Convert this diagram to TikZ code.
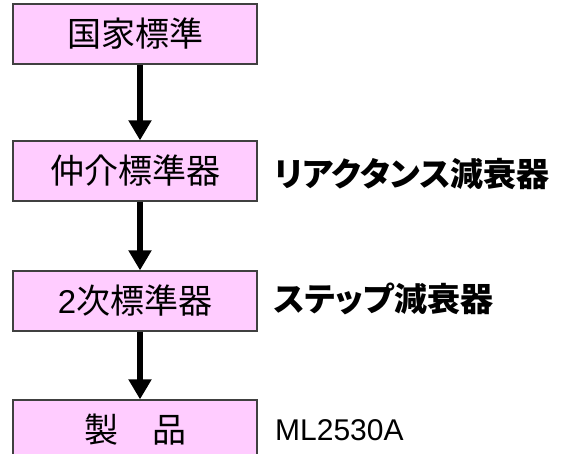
\documentclass[tikz,border=0pt]{standalone}
\usepackage{fontspec}
\setmainfont{Liberation Sans}
\newfontfamily\cjk{Noto Sans CJK JP}
\newfontfamily\cjkp[RawFeature=+palt]{Noto Sans CJK JP}
\usetikzlibrary{arrows.meta}
\begin{document}
\begin{tikzpicture}[x=1pt,y=-1pt,
  box/.style={draw=black!75,line width=1.3pt,fill=pinkfill,minimum width=244pt,minimum height=60pt,inner sep=0pt,font=\fontsize{34}{36}\selectfont},
  lab/.style={anchor=west,inner sep=0pt,font=\fontsize{33}{35}\selectfont},
  flow/.style={line width=6pt,-{Triangle[width=22pt,length=20pt]}}]
\definecolor{pinkfill}{HTML}{FFCCFF}
\useasboundingbox (0,0) rectangle (572,453);
\clip (0,0) rectangle (572,453);
\node[box] (b1) at (135,34) {\cjk 国家標準};
\node[box] (b2) at (135,171) {\cjk 仲介標準器};
\node[box] (b3) at (135,301) {\fontsize{33}{36}\selectfont 2{\cjk\fontsize{34}{36}\selectfont 次標準器}};
\node[box] (b4) at (135,430) {\cjk 製　品};
\draw[flow] ([xshift=5pt]b1.south) -- ([xshift=5pt]b2.north);
\draw[flow] ([xshift=5pt]b2.south) -- ([xshift=5pt]b3.north);
\draw[flow] ([xshift=5pt]b3.south) -- ([xshift=5pt]b4.north);
\node[lab] (l2) at (274,174) {\cjkp\bfseries リアクタンス減衰器};
\node[lab] (l3) at (274,299) {\cjkp\bfseries ステップ減衰器};
\node[lab,font=\fontsize{30}{32}\selectfont] (l4) at (275,430) {ML2530A};
\end{tikzpicture}
\end{document}
